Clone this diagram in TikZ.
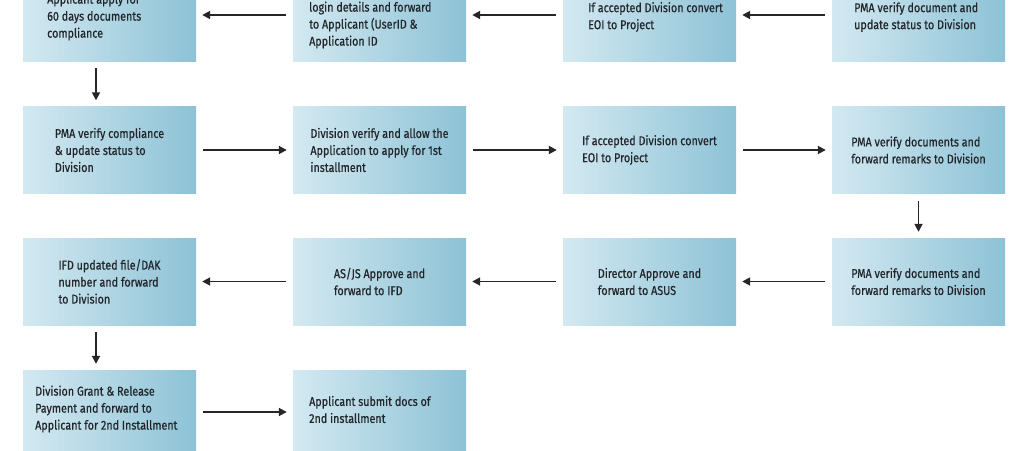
\documentclass[tikz,border=0pt]{standalone}
\usepackage{fontspec}
\setmainfont{Fira Sans}[FakeStretch=0.84,FakeBold=0.6]
\usetikzlibrary{arrows.meta}
\begin{document}
\begin{tikzpicture}[x=1pt,y=-1pt,
  box/.style={draw=none,left color=boxl,right color=boxr,minimum width=173pt,minimum height=87pt,inner sep=0pt,align=left,font=\fontsize{12.8}{17}\selectfont,text=txt},
  tl/.style={anchor=west,inner sep=0pt,align=left,font=\fontsize{12.8}{17}\selectfont,text=txt},
  arr/.style={-{Triangle[length=8pt,width=8pt]},line width=1.8pt,draw=black!85,shorten >=6pt,shorten <=7pt}]
\definecolor{boxl}{HTML}{D3E9F1}
\definecolor{boxr}{HTML}{8DC2D6}
\definecolor{txt}{HTML}{22262B}
\path[use as bounding box] (0,0) rectangle (1024,450);
\clip (0,0) rectangle (1024,450);
% row 1
\node[box] (a1) at (109.5,17.5) {};
\node[box] (a2) at (379.5,17.5) {};
\node[box] (a3) at (649.5,17.5) {};
\node[box] (a4) at (918.5,17.5) {};
\node[tl] (ta1) at (47,17) {Applicant apply for\\60 days documents\\compliance};
\node[tl] (ta2) at (309,25) {login details and forward\\to Applicant (UserID \&\\Application ID};
\node[tl] (ta3) at (588,17) {If accepted Division convert\\EOI to Project};
\node[tl] (ta4) at (854,17) {PMA verify document and\\update status to Division};
% row 2
\node[box] (b1) at (109.5,150) {PMA verify compliance\\\& update status to\\Division};
\node[box] (b2) at (379.5,150) {Division verify and allow the\\Application to apply for 1st\\installment};
\node[box] (b3) at (649.5,150) {If accepted Division convert\\EOI to Project};
\node[box] (b4) at (918.5,150) {PMA verify documents and\\forward remarks to Division};
% row 3
\node[box] (c1) at (109.5,281.5) {IFD updated file/DAK\\number and forward\\to Division};
\node[box] (c2) at (379.5,281.5) {AS/JS Approve and\\forward to IFD};
\node[box] (c3) at (649.5,281.5) {Director Approve and\\forward to ASUS};
\node[box] (c4) at (918.5,281.5) {PMA verify documents and\\forward remarks to Division};
% row 4
\node[box,minimum height=90pt] (d1) at (109.5,415) {};
\node[box,minimum height=90pt] (d2) at (379.5,415) {};
\node[tl] (td1) at (35,409) {Division Grant \& Release\\Payment and forward to\\Applicant for 2nd Installment};
\node[tl] (td2) at (309,409.5) {Applicant submit docs of\\2nd installment};
% arrows
\draw[arr] (a4.west|-0,15) -- (a3.east|-0,15);
\draw[arr] (a3.west|-0,15) -- (a2.east|-0,15);
\draw[arr] (a2.west|-0,15) -- (a1.east|-0,15);
\draw[arr] (a1.south-|96,0) -- (b1.north-|96,0);
\draw[arr] (b1) -- (b2);
\draw[arr] (b2) -- (b3);
\draw[arr] (b3) -- (b4);
\draw[arr] (b4) -- (c4);
\draw[arr] (c4) -- (c3);
\draw[arr] (c3) -- (c2);
\draw[arr] (c2) -- (c1);
\draw[arr] (c1.south-|96,0) -- (d1.north-|96,0);
\draw[arr] (d1.east|-0,412) -- (d2.west|-0,412);
\end{tikzpicture}
\end{document}
